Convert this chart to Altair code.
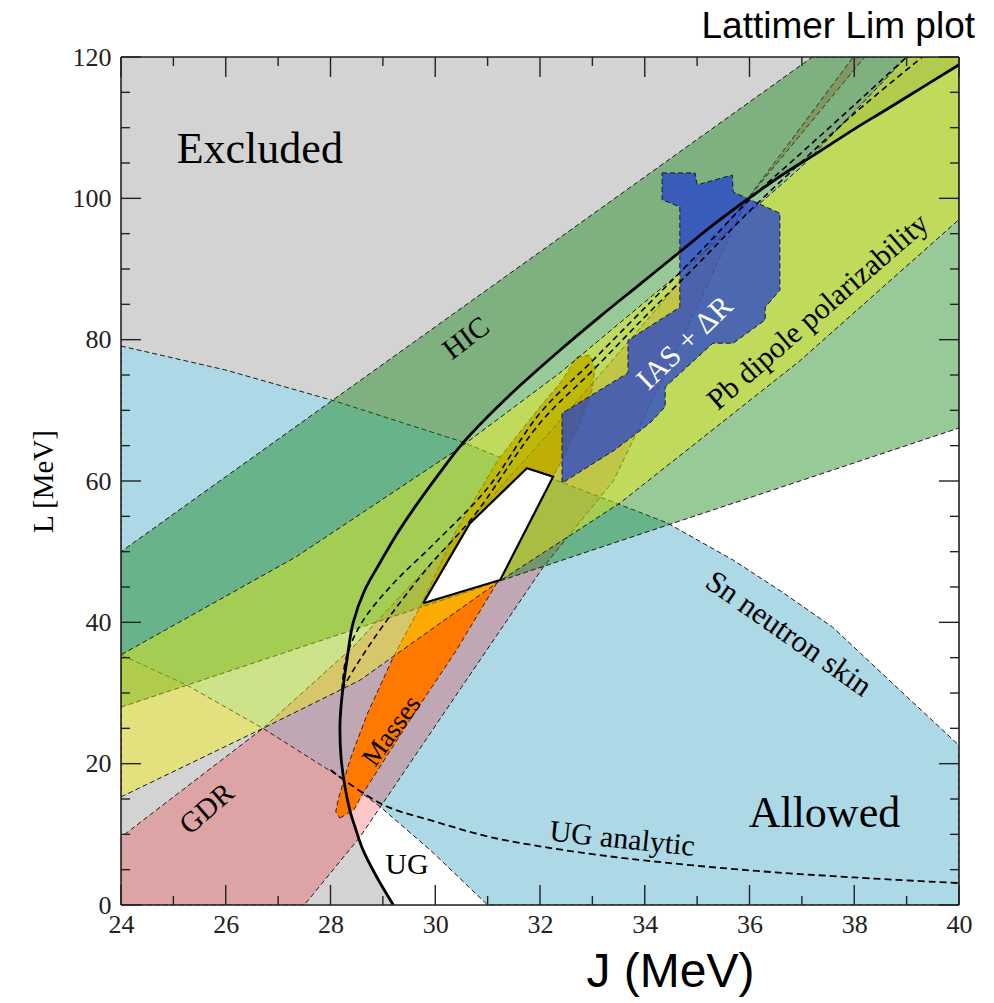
import altair as alt
import pandas as pd

# ---------------- axis ranges and plot size ----------------
J_RANGE = [24, 40]
L_RANGE = [0, 120]
W, H = 838, 848

# ---------------- constraint regions, vertices as (J, L) in MeV ----------------
# unitary-gas bound (solid black curve)
ug_J = [29.2, 28.88, 28.62, 28.47, 28.37, 28.27, 28.2, 28.18, 28.2, 28.24, 28.32, 28.43, 28.65,
        28.95, 29.25, 29.6, 30.05, 30.53, 31.4, 32.38, 33.15, 33.9, 34.7, 35.3, 35.95, 36.6,
        37.29, 38.0, 38.6, 39.3, 40.0]
ug_L = [0, 4, 7.8, 11, 13.4, 17, 21, 25.2, 28, 30.8, 35, 39.9, 44.5,
        48.5, 52.3, 56.2, 60.8, 65.4, 72, 78.5, 83.3, 87.8, 92.6, 96.2, 99.8, 103.2,
        106.4, 109.8, 112.5, 115.7, 118.9]

# analytic unitary-gas estimate (dashed)
uga_J = [28.0, 29.0, 30.0, 31.0, 32.0, 33.0, 34.0, 36.0, 38.0, 40.0]
uga_L = [19.1, 14.2, 11.8, 9.7, 8.3, 7.2, 6.3, 4.9, 3.9, 3.1]

# Sn neutron skin band
sn_up_J = [24, 26, 28.09, 30.53, 32, 34.42, 35.69, 36.6, 37.59, 38.87, 40]
sn_up_L = [79.1, 75.7, 71.3, 65.5, 61.0, 54.1, 48.8, 44.4, 39.3, 30.4, 22.6]
sn_lo_J = [24, 25.26, 26.71, 28.18, 28.95, 29.96, 31.0]
sn_lo_L = [35.4, 31.1, 25.0, 18.1, 13.9, 7.4, 0]

# giant dipole resonance band
gdr_left_J = [24, 26.71, 28.43, 30.5, 32.5, 34.3, 35.95, 37.98]
gdr_left_L = [9.6, 25.0, 36.5, 53.0, 69.5, 85.0, 99.8, 120]
gdr_right_J = [27.5, 28.56, 30.5, 32.06, 33.4, 34.7, 35.95, 38.2]
gdr_right_L = [0, 9.6, 30.8, 47.8, 60.0, 80.0, 99.8, 120]

# nuclear masses
mass_J = [28.18, 28.45, 28.62, 29.5, 30.4, 31.18, 31.85, 32.35, 32.75, 33.0, 33.05, 32.95,
          32.7, 32.4, 32.0, 31.2, 30.4, 29.71, 29.2, 28.7, 28.37, 28.15, 28.1]
mass_L = [12.3, 13.5, 15.8, 26, 36, 45.6, 55.5, 62, 68, 73, 76, 77.8,
          77.5, 74, 70.5, 63, 53, 42.2, 35.1, 27, 20.5, 15, 13.2]

# heavy-ion collisions
hic_lo_J = [24, 40]
hic_lo_L = [28, 67.5]
hic_up_J = [24, 37.2]
hic_up_L = [50, 120]

# Pb dipole polarizability
pb_lo_J = [24, 26.71, 28.56, 31.18, 33.53, 36.96, 40]
pb_lo_L = [15.3, 25.0, 31.8, 45.6, 56.9, 77.0, 97.0]
pb_up_J = [24, 27.35, 30.41, 32.38, 35.0, 37.0, 39.0]
pb_up_L = [35.4, 49.3, 64.4, 75.3, 91.5, 104.5, 120]

# isobaric analog states + neutron skins
ias_J = [34.33, 34.96, 35.0, 35.67, 35.69, 36.1, 36.58, 36.58, 36.3, 36.3, 35.69, 35.3,
         34.39, 34.39, 34.1, 33.43, 32.42, 32.42, 33.68, 33.68, 34.67, 34.67, 34.33]
ias_L = [103.6, 103.6, 101.9, 103.3, 100.9, 99.5, 97.9, 87.0, 84.6, 82.8, 79.5, 79.5,
         73.3, 70.5, 68.2, 64.4, 59.7, 69.6, 75.3, 79.9, 84.6, 98.8, 99.8]

# joint overlap of the experimental constraints
ovl_J = [29.77, 30.47, 30.66, 31.75, 32.25, 31.24, 29.77]
ovl_L = [42.7, 51.6, 54.0, 61.8, 60.6, 46.0, 42.7]

# dashed pair running alongside the UG bound
dA_J = [28.22, 28.3, 28.6, 29.2, 29.96, 31.0, 32.0, 33.0, 34.0, 35.0, 36.0, 37.0, 38.0, 39.0]
dA_L = [30.5, 35.0, 40.0, 45.5, 51.0, 59.0, 69.6, 77.0, 84.5, 92.0, 99.8, 106.5, 113.2, 120]
dB_J = [28.22, 28.5, 29.0, 29.84, 30.72, 32.0, 33.0, 34.0, 35.0, 36.0, 37.0, 38.0, 39.3]
dB_L = [30.5, 34.0, 39.5, 47.6, 54.9, 68.2, 75.6, 83.2, 90.6, 98.2, 105.2, 112.0, 120]

# ---------------- labels ----------------
lab_text = ["Excluded", "Allowed", "HIC", "IAS + \u0394R", "Pb dipole polarizability",
            "Sn neutron skin", "GDR", "Masses", "UG", "UG analytic"]
lab_J = [26.65, 37.43, 30.59, 34.77, 37.31, 36.74, 25.64, 29.17, 29.46, 33.57]
lab_L = [106.8, 12.9, 80.2, 79.5, 83.9, 38.3, 13.6, 24.6, 5.7, 9.3]
lab_angle = [0, 0, 323, 316, 319, 35, 319, 306, 0, 6]
lab_size = [44, 44, 29, 30, 30, 31, 29, 27, 30, 30]
lab_color = ["black", "black", "black", "white", "black", "black", "black", "black", "black", "black"]

# ---------------- ticks ----------------
x_major = [24, 26, 28, 30, 32, 34, 36, 38, 40]
x_minor = [25, 27, 29, 31, 33, 35, 37, 39]
y_major = [0, 20, 40, 60, 80, 100, 120]
y_minor = [5, 10, 15, 25, 30, 35, 45, 50, 55, 65, 70, 75, 85, 90, 95, 105, 110, 115]

SERIF = "Liberation Serif"

x_axis = alt.Axis(values=x_major, ticks=False, domain=False, grid=False, labelFlush=False,
                  labelFont=SERIF, labelFontSize=26, labelColor="#222", labelPadding=6,
                  title="J (MeV)", titleFont="Liberation Sans", titleFontSize=48,
                  titleFontWeight="normal", titleColor="black",
                  titleX=549, titleY=81, titleBaseline="alphabetic", titleAlign="center")
y_axis = alt.Axis(values=y_major, ticks=False, domain=False, grid=False, labelFlush=False,
                  labelFont=SERIF, labelFontSize=26, labelColor="#222", labelPadding=10,
                  title="L [MeV]", titleFont=SERIF, titleFontSize=29,
                  titleFontWeight="normal", titleColor="black", titlePadding=14)

X = alt.X("J:Q", scale=alt.Scale(domain=J_RANGE, nice=False, zero=False), axis=x_axis)
Y = alt.Y("L:Q", scale=alt.Scale(domain=L_RANGE, nice=False, zero=False), axis=y_axis)


def frame(js, ls):
    return pd.DataFrame({"J": js, "L": ls, "i": list(range(len(js)))})


def region(js, ls, fill, opacity, dashed=True):
    # closed filled outline drawn through the shared J/L scales
    js = list(js) + [js[0]]
    ls = list(ls) + [ls[0]]
    props = dict(clip=True, fill=fill, fillOpacity=opacity, interpolate="linear")
    if dashed:
        props.update(stroke="#1a1a1a", strokeWidth=1.0, strokeDash=[5, 3])
    else:
        props.update(stroke="#1a1a1a", strokeOpacity=0)
    return alt.Chart(frame(js, ls)).mark_line(**props).encode(x=X, y=Y, order="i:Q")


def curve(js, ls, width, dash=None, interp="catmull-rom"):
    props = dict(clip=True, stroke="black", strokeWidth=width, interpolate=interp)
    if dash:
        props["strokeDash"] = dash
    return alt.Chart(frame(js, ls)).mark_line(**props).encode(x=X, y=Y, order="i:Q")


excluded = region([24] + ug_J + [40, 24], [0] + ug_L + [120, 120], "#d3d3d3", 1.0, dashed=False)
sn = region(sn_up_J + [40] + sn_lo_J[::-1], sn_up_L + [0] + sn_lo_L[::-1], "#add8e6", 1.0)
masses = region(mass_J, mass_L, "#ff9a00", 1.0)
gdr = region([24] + gdr_left_J + gdr_right_J[::-1], [0] + gdr_left_L + gdr_right_L[::-1],
             "#ff0000", 0.22)
hic = region(hic_lo_J + [40] + hic_up_J[::-1], hic_lo_L + [120] + hic_up_L[::-1], "#108210", 0.43)
pb = region(pb_lo_J + [40] + pb_up_J[::-1], pb_lo_L + [120] + pb_up_L[::-1], "#faf305", 0.41)
ias = region(ias_J, ias_L, "#1e3cd2", 0.72)

overlap = alt.Chart(frame(ovl_J, ovl_L)).mark_line(
    clip=True, fill="white", fillOpacity=1, stroke="black", strokeWidth=2.2, interpolate="linear"
).encode(x=X, y=Y, order="i:Q")

ug_line = curve(ug_J, ug_L, 2.8)
uga_line = curve(uga_J, uga_L, 1.8, dash=[7, 4])
dA_line = curve(dA_J, dA_L, 1.6, dash=[6, 4])
dB_line = curve(dB_J, dB_L, 1.6, dash=[6, 4])

labels_df = pd.DataFrame({"t": lab_text, "J": lab_J, "L": lab_L, "a": lab_angle,
                          "s": lab_size, "c": lab_color})
labels = alt.Chart(labels_df).mark_text(font=SERIF, baseline="middle", align="center").encode(
    x=X, y=Y, text="t:N",
    angle=alt.Angle("a:Q", scale=None),
    size=alt.Size("s:Q", scale=None),
    color=alt.Color("c:N", scale=None),
)


def xticks(vals, length):
    d = pd.DataFrame({"J": vals})
    bottom = alt.Chart(d).mark_rule(color="#222", strokeWidth=1.4).encode(
        x=X, y=alt.value(H), y2=alt.value(H - length))
    top = alt.Chart(d).mark_rule(color="#222", strokeWidth=1.4).encode(
        x=X, y=alt.value(0), y2=alt.value(length))
    return bottom + top


def yticks(vals, length):
    d = pd.DataFrame({"L": vals})
    left = alt.Chart(d).mark_rule(color="#222", strokeWidth=1.4).encode(
        y=Y, x=alt.value(0), x2=alt.value(length))
    right = alt.Chart(d).mark_rule(color="#222", strokeWidth=1.4).encode(
        y=Y, x=alt.value(W), x2=alt.value(W - length))
    return left + right


box_df = pd.DataFrame({"k": [0]})
box = (
    alt.Chart(box_df).mark_rule(color="#222", strokeWidth=1.6).encode(
        x=alt.value(0), x2=alt.value(W), y=alt.value(0))
    + alt.Chart(box_df).mark_rule(color="#222", strokeWidth=1.6).encode(
        x=alt.value(0), x2=alt.value(W), y=alt.value(H))
    + alt.Chart(box_df).mark_rule(color="#222", strokeWidth=1.6).encode(
        x=alt.value(0), y=alt.value(0), y2=alt.value(H))
    + alt.Chart(box_df).mark_rule(color="#222", strokeWidth=1.6).encode(
        x=alt.value(W), y=alt.value(0), y2=alt.value(H))
)

chart = alt.layer(
    excluded, sn, masses, gdr, hic, pb, ias, overlap,
    ug_line, uga_line, dA_line, dB_line, labels,
    xticks(x_major, 20), xticks(x_minor, 9), yticks(y_major, 20), yticks(y_minor, 9), box,
).properties(
    width=W, height=H,
    title=alt.TitleParams("Lattimer Lim plot", anchor="end", font="Liberation Sans",
                          fontSize=37, fontWeight="normal", color="black", offset=-2, dx=3),
    autosize=alt.AutoSizeParams(type="none"),
    padding={"left": 121, "top": 57, "right": 35, "bottom": 98},
).configure_view(strokeWidth=0).configure(background="white")

chart.save("out.html", embed_options={"renderer": "svg", "actions": False})
